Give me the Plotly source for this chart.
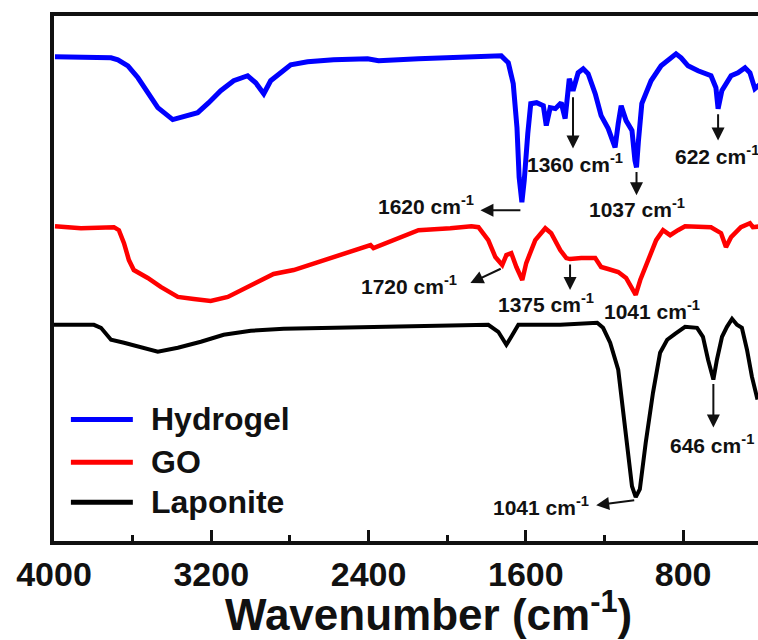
import plotly.graph_objects as go

# FTIR spectra (transmittance, arbitrary units, curves offset for clarity)
series_names = ["Hydrogel", "GO", "Laponite"]
series_colors = ["#0000FF", "#FF0000", "#000000"]
series_widths = [5, 4.5, 4]

hydrogel_wn = [3995, 3710, 3675, 3624, 3573, 3523, 3472, 3396, 3340, 3269, 3213, 3152,
               3086, 3015, 2974, 2933, 2898, 2847, 2796, 2710, 2578, 2405, 2349, 2146,
               1933, 1725, 1689, 1664, 1645, 1634, 1620, 1608, 1590, 1575, 1545, 1511,
               1496, 1476, 1450, 1420, 1400, 1379, 1360, 1334, 1308, 1283, 1247, 1217,
               1181, 1156, 1146, 1130, 1115, 1090, 1060, 1045, 1037, 1027, 1010, 963,
               912, 836, 810, 775, 724, 658, 633, 622, 603, 556, 521, 485, 460, 435, 400]
hydrogel_t = [97.2, 97.0, 96.6, 95.4, 93.0, 90.0, 87.0, 84.6, 85.2, 86.0, 88.0, 90.4,
              92.4, 93.4, 92.0, 89.8, 92.4, 94.0, 95.6, 96.2, 96.6, 96.8, 96.4, 96.8,
              97.2, 97.4, 96.0, 91.8, 83.0, 73.0, 68.0, 72.4, 81.8, 87.8, 88.0, 87.4,
              83.4, 87.0, 86.8, 88.0, 84.8, 92.8, 90.4, 94.0, 94.8, 93.8, 89.8, 85.4,
              82.8, 80.4, 79.0, 83.8, 87.4, 84.4, 82.4, 76.4, 75.0, 80.4, 87.8, 92.4,
              95.4, 97.8, 97.0, 95.4, 94.4, 93.4, 91.0, 86.8, 90.4, 93.4, 94.0, 95.0,
              94.0, 90.8, 92.0]

go_wn = [3995, 3863, 3695, 3670, 3644, 3619, 3594, 3523, 3457, 3370, 3289, 3203, 3116,
         3015, 2883, 2781, 2659, 2507, 2390, 2375, 2349, 2146, 1984, 1877, 1841, 1791,
         1755, 1720, 1699, 1674, 1648, 1618, 1598, 1552, 1501, 1471, 1425, 1394, 1375,
         1318, 1247, 1217, 1181, 1130, 1090, 1058, 1041, 1018, 978, 937, 902, 866, 826,
         790, 658, 607, 582, 556, 506, 460, 445, 400]
go_t = [63.2, 62.8, 63.0, 62.4, 59.8, 56.4, 54.4, 52.8, 51.0, 49.0, 48.6, 48.2, 49.0,
        51.0, 53.6, 54.4, 56.0, 58.0, 59.4, 58.8, 59.2, 62.4, 62.8, 63.2, 63.0, 60.4,
        57.0, 55.4, 57.4, 57.8, 55.0, 52.4, 55.8, 60.4, 62.8, 61.8, 58.4, 56.8, 56.6,
        56.8, 56.8, 55.0, 54.6, 54.0, 52.8, 50.4, 49.4, 52.4, 56.4, 60.4, 62.4, 61.4,
        62.4, 63.2, 63.0, 61.8, 59.0, 61.0, 63.0, 63.8, 63.0, 63.2]

laponite_wn = [4000, 3797, 3761, 3710, 3644, 3558, 3472, 3370, 3253, 3137, 2999, 2832,
               2578, 2324, 1984, 1791, 1740, 1699, 1674, 1638, 1425, 1237, 1207, 1171,
               1130, 1105, 1080, 1060, 1041, 1020, 990, 953, 917, 881, 841, 790, 729,
               699, 673, 646, 628, 602, 577, 551, 526, 501, 475, 450, 424, 400]
laponite_t = [43.4, 43.4, 42.8, 40.4, 39.8, 38.8, 38.0, 38.8, 40.0, 41.4, 42.2, 42.6,
              42.8, 43.0, 43.4, 43.4, 42.0, 39.4, 41.0, 43.4, 43.4, 43.8, 42.8, 39.8,
              34.4, 26.4, 17.0, 11.0, 8.8, 10.4, 19.8, 29.8, 37.8, 40.4, 41.6, 43.0, 42.8,
              41.0, 36.4, 32.4, 36.4, 41.0, 43.0, 44.6, 43.4, 42.8, 38.4, 33.0, 28.8, 29.0]

# Peak labels: text, text position (wn, T), arrow tail (wn, T), arrow head (wn, T)
peak_labels = [
    ("1620", (2106, 67.4), (1620, 66.4), (1831, 66.4)),
    ("1360", (1349, 75.8), (1360, 89.4), (1360, 78.8)),
    ("1037", (1034, 66.8), (1037, 74.4), (1037, 69.4)),
    ("622", (630, 77.4), (622, 86.0), (622, 80.4)),
    ("1720", (2192, 51.4), (1720, 54.8), (1882, 51.8)),
    ("1375", (1496, 47.8), (1375, 55.8), (1375, 50.4)),
    ("1041", (958, 46.4), None, None),
    ("1041", (1521, 7.0), (1041, 8.2), (1242, 7.2)),
    ("646", (653, 19.4), (646, 31.8), (646, 22.8)),
]

major_ticks = [4000, 3200, 2400, 1600, 800]
minor_ticks = [3600, 2800, 2000, 1200, 400]

FONT = "Arial, Liberation Sans, sans-serif"
INK = "#111111"
UNIT = "cm<sup>-1</sup>"

fig = go.Figure()
for name, wn, t, color, lw in zip(series_names,
                                   [hydrogel_wn, go_wn, laponite_wn],
                                   [hydrogel_t, go_t, laponite_t],
                                   series_colors, series_widths):
    fig.add_trace(go.Scatter(x=wn, y=t, mode="lines", name=name,
                             line=dict(color=color, width=lw),
                             showlegend=False))

annotations = []
for label, (tx, ty), tail, head in peak_labels:
    annotations.append(dict(x=tx, y=ty, xref="x", yref="y", showarrow=False,
                            text=f"{label} {UNIT}",
                            font=dict(family=FONT, size=21, color=INK, weight="bold")))
    if tail is not None:
        annotations.append(dict(x=head[0], y=head[1], ax=tail[0], ay=tail[1],
                                xref="x", yref="y", axref="x", ayref="y",
                                text="", showarrow=True, arrowhead=2, arrowsize=1.3,
                                arrowwidth=2, arrowcolor=INK, standoff=0,
                                startstandoff=0))

# Legend drawn as line samples with labels in the lower-left corner
legend_y = [0.2315, 0.15, 0.074]
shapes = []
for name, color, ly in zip(series_names, series_colors, legend_y):
    shapes.append(dict(type="line", xref="paper", yref="paper",
                       x0=0.024, x1=0.112, y0=ly, y1=ly,
                       line=dict(color=color, width=5)))
    annotations.append(dict(x=0.135, y=ly, xref="paper", yref="paper",
                            xanchor="left", yanchor="middle", showarrow=False,
                            text=name,
                            font=dict(family=FONT, size=32, color=INK, weight="bold")))

# Axis title
annotations.append(dict(x=0.532, y=-0.135, xref="paper", yref="paper",
                        xanchor="center", yanchor="middle", showarrow=False,
                        text=f"Wavenumber ({UNIT})",
                        font=dict(family=FONT, size=44, color=INK, weight="bold")))

fig.update_layout(
    width=758, height=640,
    margin=dict(l=54, r=0, t=16, b=99),
    paper_bgcolor="white", plot_bgcolor="white",
    showlegend=False,
    annotations=annotations,
    shapes=shapes,
    xaxis=dict(range=[4000, 419], showgrid=False, zeroline=False,
               showline=True, linecolor=INK, linewidth=4, mirror=True,
               ticks="inside", ticklen=11, tickwidth=3, tickcolor=INK,
               tickvals=major_ticks, ticktext=[str(v) for v in major_ticks],
               tickfont=dict(family=FONT, size=34, color=INK, weight="bold"),
               minor=dict(tickvals=minor_ticks, ticks="inside", ticklen=6,
                          tickwidth=3, tickcolor=INK)),
    yaxis=dict(range=[0, 105.4], showgrid=False, zeroline=False,
               showline=True, linecolor=INK, linewidth=4, mirror=False,
               ticks="", showticklabels=False),
)

fig.write_html("out.html")
